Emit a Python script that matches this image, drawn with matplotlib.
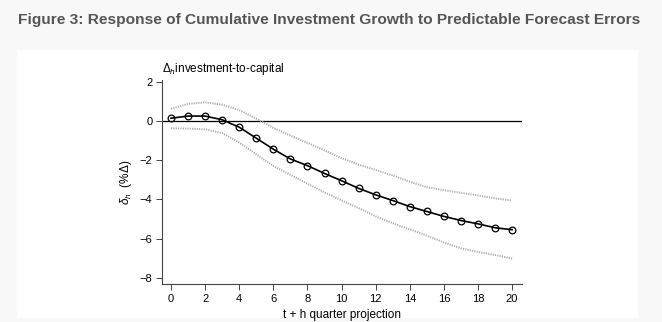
import matplotlib
matplotlib.use("Agg")
import matplotlib.pyplot as plt
from matplotlib.patches import Rectangle

plt.rcParams['font.family'] = ['Liberation Sans', 'DejaVu Sans']
plt.rcParams['mathtext.fontset'] = 'custom'
plt.rcParams['mathtext.rm'] = 'Liberation Sans'
plt.rcParams['mathtext.it'] = 'Liberation Sans:italic'

# horizon (quarters) and estimated response with 90% band
h = list(range(21))
resp = [0.14, 0.25, 0.25, 0.06, -0.32, -0.88, -1.44, -1.94, -2.28, -2.68, -3.05,
        -3.44, -3.77, -4.06, -4.37, -4.62, -4.87, -5.08, -5.25, -5.45, -5.55]
upper = [0.62, 0.87, 0.95, 0.83, 0.55, 0.12, -0.35, -0.75, -1.12, -1.5, -1.9,
         -2.23, -2.5, -2.78, -3.1, -3.38, -3.53, -3.67, -3.8, -3.95, -4.06]
lower = [-0.37, -0.39, -0.43, -0.62, -1.1, -1.7, -2.3, -2.75, -3.2, -3.65, -4.05,
         -4.45, -4.87, -5.22, -5.53, -5.85, -6.2, -6.5, -6.68, -6.84, -7.02]
xticks = list(range(0, 21, 2))
yticks = [2, 0, -2, -4, -6, -8]

fig = plt.figure(figsize=(6.62, 3.22), dpi=100)
fig.patch.set_facecolor('#f8f8f8')

# white panel behind the chart (its own axes, kept underneath)
bg = fig.add_axes([17/662, 1 - 318/322, 621/662, 268/322], zorder=0)
bg.add_patch(Rectangle((0, 0), 1, 1, transform=bg.transAxes, facecolor='white', edgecolor='none'))
bg.axis('off')

fig.text(18/662, 1 - 24/322, 'Figure 3: Response of Cumulative Investment Growth to Predictable Forecast Errors',
         fontsize=11.15, fontweight='bold', color='#555555', ha='left', va='baseline')

ax = fig.add_axes([162/662, 1 - 284/322, 360/662, 204/322], zorder=2)
ax.set_facecolor('none')

ax.axhline(0, color='black', lw=0.9, zorder=1)
ax.plot(h, upper, color='#aaaaaa', lw=1.4, ls=(0, (0.6, 0.6)), zorder=2)
ax.plot(h, lower, color='#aaaaaa', lw=1.4, ls=(0, (0.6, 0.6)), zorder=2)
ax.plot(h, resp, color='black', lw=1.2, marker='o', ms=4.8, mfc='none',
        mec='black', mew=0.9, zorder=3)

ax.set_xlim(-0.53, 20.58)
ax.set_ylim(-8.32, 2.09)
ax.set_xticks(xticks)
ax.set_yticks(yticks)
ax.tick_params(labelsize=8, length=4, width=0.7, color='#444444', pad=3)
for s in ['top', 'right']:
    ax.spines[s].set_visible(False)
for s in ['left', 'bottom']:
    ax.spines[s].set_color('#444444')
    ax.spines[s].set_linewidth(0.8)

ax.set_xlabel('t + h quarter projection', fontsize=8.5, labelpad=4)
ax.set_ylabel(r'$\delta_h$  (%$\Delta$)', fontsize=8.5, labelpad=4)
ax.set_title(r'$\Delta_h$investment-to-capital', fontsize=8.5, loc='left', pad=6)

fig.savefig('out.png', dpi=100, facecolor=fig.get_facecolor())
